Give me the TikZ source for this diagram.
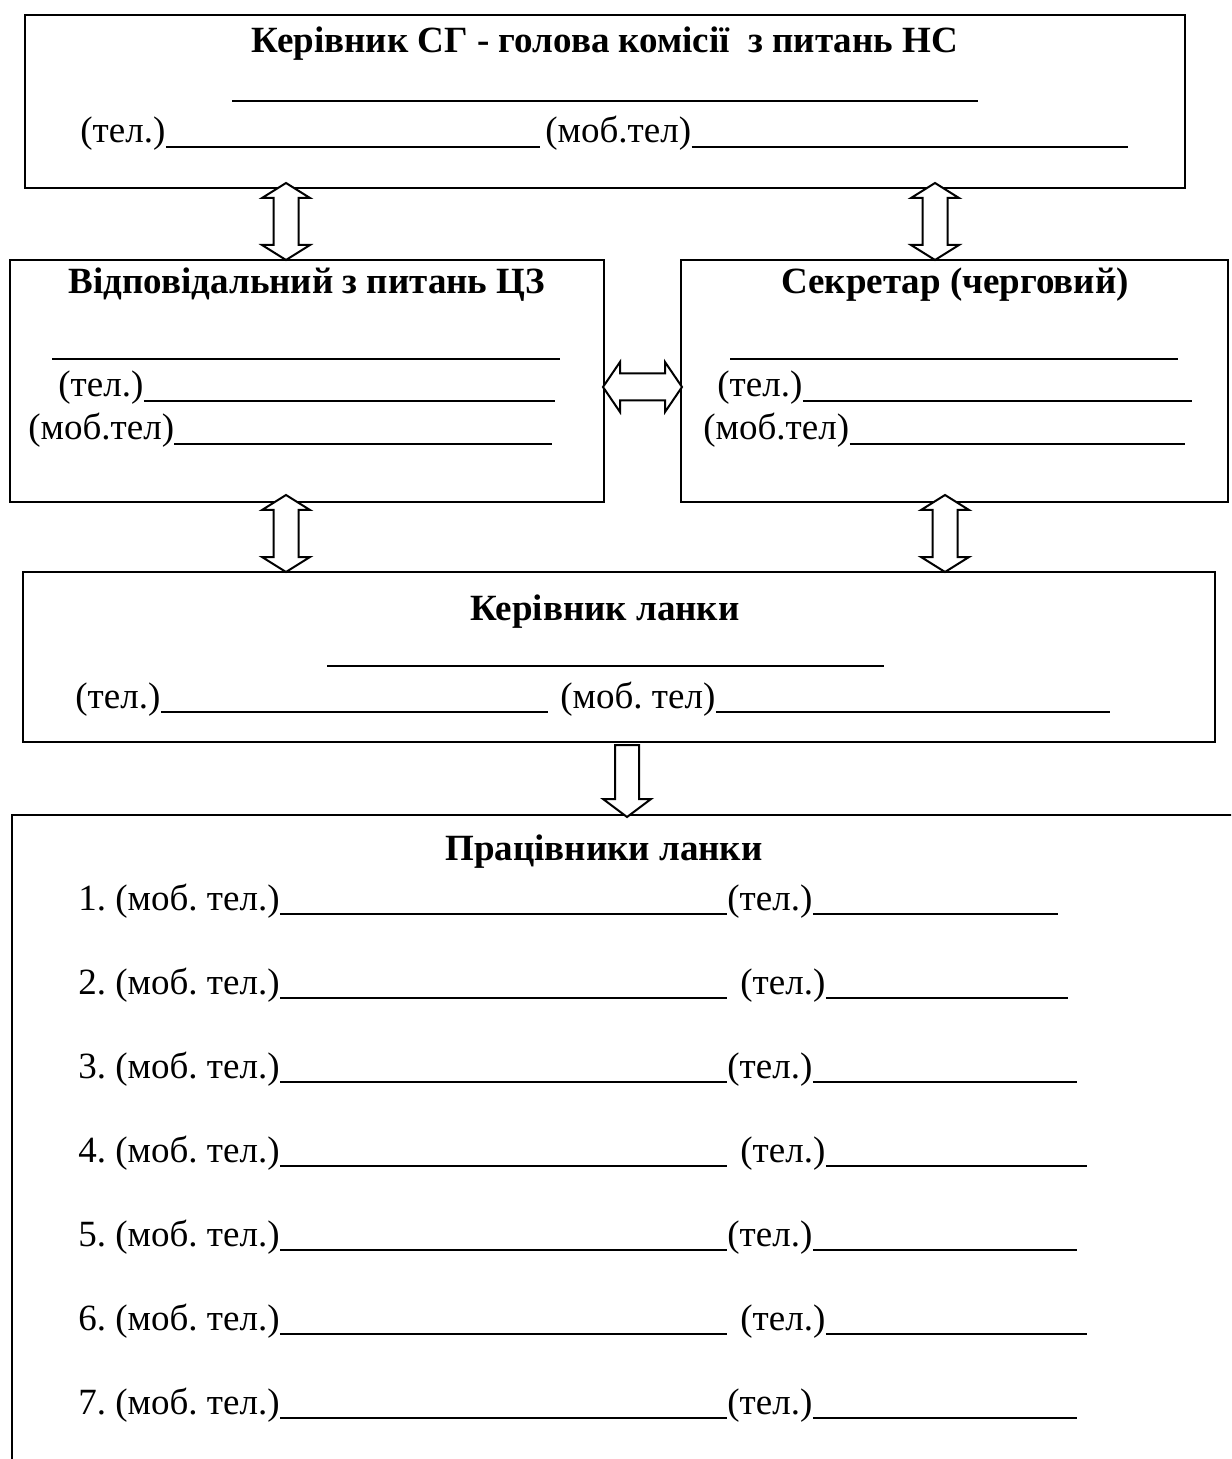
\documentclass[tikz,border=0pt]{standalone}
\usepackage{fontspec}
\setmainfont{Liberation Serif}
\usetikzlibrary{calc}
\frenchspacing
\newcommand\fsz{\fontsize{18.5}{22}\selectfont}
\tikzset{
  box/.style={draw, line width=1.2pt, inner sep=0pt, rectangle},
  lbl/.style={anchor=base west, inner sep=0pt, font=\fsz},
  ttl/.style={anchor=base, inner sep=0pt, font=\fsz\bfseries},
  blank/.style={line width=0.9pt},
  bblank/.style={line width=1.4pt},
  blk/.style={draw, line width=1pt, line join=miter, fill=white},
}
\begin{document}
\begin{tikzpicture}[x=0.5pt,y=-0.5pt]
\clip (0,0) rectangle (1231,1459);
\fill[white] (0,0) rectangle (1231,1459);
% boxes
\node[box, minimum width=580pt, minimum height=86.5pt] (b1) at (605,101.5) {};
\node[box, minimum width=297pt, minimum height=121pt] (b2) at (307,381) {};
\node[box, minimum width=273.5pt, minimum height=121pt] (b3) at (954.5,381) {};
\node[box, minimum width=596pt, minimum height=85pt] (b4) at (619,657) {};
\node[box, minimum width=614pt, minimum height=327.5pt] (b5) at (626,1142.5) {};
% arrow end points
\coordinate (a1) at (286,183);
\coordinate (a2) at (935,183);
\coordinate (a3) at (286,495);
\coordinate (a4) at (945,495);
\coordinate (ah) at (603,387);
\coordinate (a5) at (627,745);
% vertical double arrows
\foreach \c in {a1,a2,a3,a4}{
  \draw[blk] (\c) -- ++(24,15) -- ++(-11.5,0) -- ++(0,47) -- ++(11.5,0) -- ++(-24,15)
    -- ++(-24,-15) -- ++(11.5,0) -- ++(0,-47) -- ++(-11.5,0) -- cycle;
}
% horizontal double arrow
\draw[blk] (ah) -- ++(17,-25) -- ++(0,11.5) -- ++(45,0) -- ++(0,-11.5) -- ++(17,25)
  -- ++(-17,25) -- ++(0,-11.5) -- ++(-45,0) -- ++(0,11.5) -- cycle;
% single down arrow
\draw[blk] (a5) -- ++(12,0) -- ++(0,54) -- ++(12,0) -- ++(-24,18) -- ++(-24,-18)
  -- ++(12,0) -- ++(0,-54) -- cycle;
% box 1
\node[ttl] (h1) at (605,53) {Керівник СГ - голова комісії\ \ з питань НС};
\draw[bblank] (232,101) -- (978,101);
\node[lbl] (h1tel) at (80,143) {(тел.)};
\draw[blank] ([yshift=-2pt]h1tel.base east) -- (540,147);
\node[lbl] (h1mob) at (545,143) {(моб.тел)};
\draw[blank] ([yshift=-2pt]h1mob.base east) -- (1128,147);
% box 2
\node[ttl] (h2) at (307,294) {Відповідальний з питань ЦЗ};
\draw[bblank] (52,359) -- (560,359);
\node[lbl] (h2tel) at (58,397) {(тел.)};
\draw[blank] ([yshift=-2pt]h2tel.base east) -- (555,401);
\node[lbl] (h2mob) at (28,440) {(моб.тел)};
\draw[blank] ([yshift=-2pt]h2mob.base east) -- (552,444);
% box 3
\node[ttl] (h3) at (955,294) {Секретар (черговий)};
\draw[bblank] (730,359) -- (1178,359);
\node[lbl] (h3tel) at (717,397) {(тел.)};
\draw[blank] ([yshift=-2pt]h3tel.base east) -- (1192,401);
\node[lbl] (h3mob) at (703,440) {(моб.тел)};
\draw[blank] ([yshift=-2pt]h3mob.base east) -- (1185,444);
% box 4
\node[ttl] (h4) at (605,620) {Керівник ланки};
\draw[blank] (327,666) -- (884,666);
\node[lbl] (h4tel) at (75,708) {(тел.)};
\draw[blank] ([yshift=-2pt]h4tel.base east) -- (548,712);
\node[lbl] (h4mob) at (560,708) {(моб. тел)};
\draw[blank] ([yshift=-2pt]h4mob.base east) -- (1110,712);
% box 5
\node[ttl] (h5) at (604,860) {Працівники ланки};
\foreach \k/\tx/\ex in {1/727/1058, 2/740/1068, 3/727/1077, 4/740/1087, 5/727/1077, 6/740/1087, 7/727/1077}{
  \node[lbl] (m\k) at (78,{826+84*\k}) {\k. (моб. тел.)};
  \draw[blank] ([yshift=-2pt]m\k.base east) -- (727,{830+84*\k});
  \node[lbl] (t\k) at (\tx,{826+84*\k}) {(тел.)};
  \draw[blank] ([yshift=-2pt]t\k.base east) -- (\ex,{830+84*\k});
}
\end{tikzpicture}
\end{document}
